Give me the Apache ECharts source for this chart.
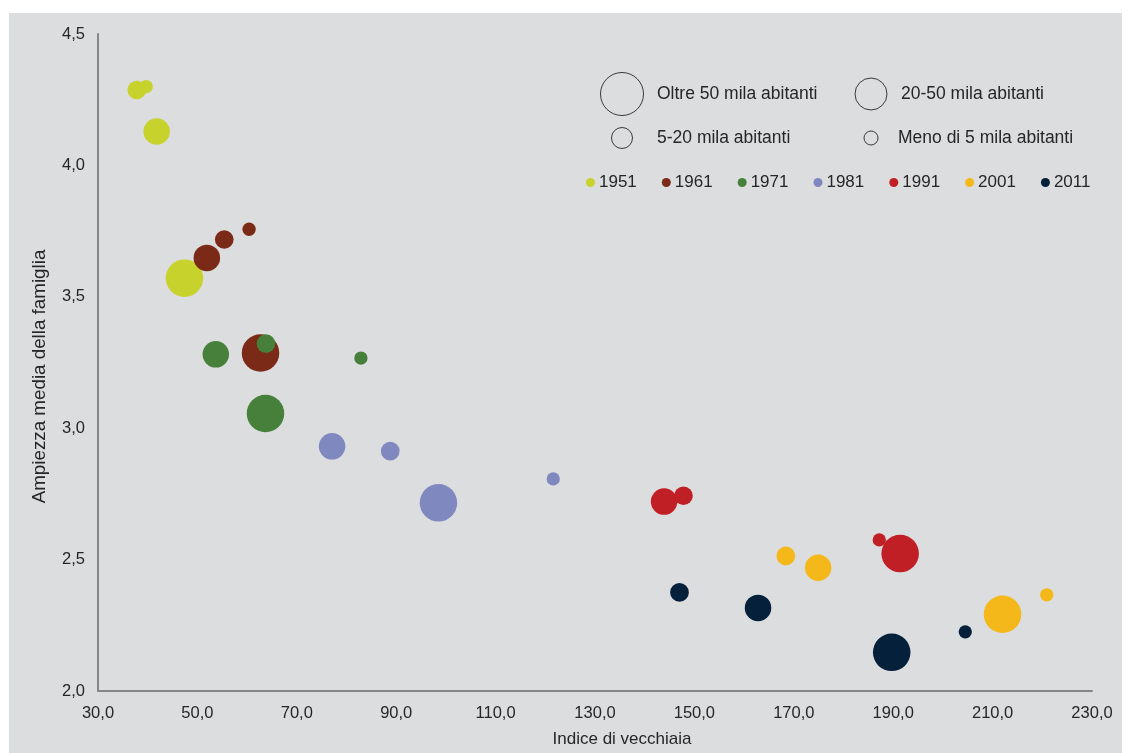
<!DOCTYPE html>
<html>
<head>
<meta charset="utf-8">
<script src="https://cdn.jsdelivr.net/npm/echarts@6/dist/echarts.min.js"></script>
<style>
  html, body { margin: 0; padding: 0; background: #ffffff; }
  #chart { width: 1128px; height: 753px; }
</style>
</head>
<body>
<div id="chart"></div>
<script>
// Anni di censimento (una serie per anno)
const years = ['1951', '1961', '1971', '1981', '1991', '2001', '2011'];

// Classi di ampiezza demografica dei comuni (ordine dei valori in ogni array)
const sizeClasses = ['Oltre 50 mila abitanti', '20-50 mila abitanti', '5-20 mila abitanti', 'Meno di 5 mila abitanti'];

// Indice di vecchiaia per classe, anno per anno
const indice1951 = [47.4, 41.8, 37.8, 39.7];
const indice1961 = [62.7, 51.9, 55.4, 60.4];
const indice1971 = [63.7, 53.7, 63.8, 82.9];
const indice1981 = [98.5, 77.1, 88.8, 121.6];
const indice1991 = [191.4, 143.9, 147.8, 187.2];
const indice2001 = [212.0, 174.9, 168.4, 220.9];
const indice2011 = [189.7, 162.8, 147.0, 204.5];

// Ampiezza media della famiglia per classe, anno per anno
const ampiezza1951 = [3.571, 4.129, 4.287, 4.300];
const ampiezza1961 = [3.286, 3.648, 3.718, 3.757];
const ampiezza1971 = [3.056, 3.281, 3.322, 3.267];
const ampiezza1981 = [2.716, 2.931, 2.913, 2.807];
const ampiezza1991 = [2.523, 2.721, 2.743, 2.575];
const ampiezza2001 = [2.292, 2.469, 2.514, 2.366];
const ampiezza2011 = [2.147, 2.316, 2.375, 2.225];

// Assi
const xTicks = [30, 50, 70, 90, 110, 130, 150, 170, 190, 210, 230];
const yTicks = [2.0, 2.5, 3.0, 3.5, 4.0, 4.5];

const indiceByYear = [indice1951, indice1961, indice1971, indice1981, indice1991, indice2001, indice2011];
const ampiezzaByYear = [ampiezza1951, ampiezza1961, ampiezza1971, ampiezza1981, ampiezza1991, ampiezza2001, ampiezza2011];

const yearColors = ['#c8d22d', '#7a2a16', '#47803a', '#7f88bf', '#c01f25', '#f5b81a', '#04203a'];
const bubbleDiameter = [37.5, 26.5, 18.7, 13.3];   // diametro per classe
const keyDiameter = [43, 32, 21, 14];              // cerchi della chiave dimensionale

const fmt = v => v.toFixed(1).replace('.', ',');
const textColor = '#262626';
const font = 'Liberation Sans, Arial, sans-serif';

const series = years.map((y, i) => ({
  name: y,
  type: 'scatter',
  symbol: 'circle',
  data: indiceByYear[i].map((x, k) => [x, ampiezzaByYear[i][k], k]),
  symbolSize: d => bubbleDiameter[d[2]],
  itemStyle: { color: yearColors[i], opacity: 1 },
  emphasis: { disabled: true },
  z: 2 + i
}));

// Chiave delle classi di ampiezza: cerchi vuoti con etichetta
const keyPos = [[622, 94], [871, 94], [622, 138], [871, 138]];
const keyTextX = [657, 901, 657, 898];
const keyGraphics = [];
sizeClasses.forEach((label, k) => {
  keyGraphics.push({
    type: 'circle',
    shape: { cx: keyPos[k][0], cy: keyPos[k][1], r: keyDiameter[k] / 2 },
    style: { fill: 'none', stroke: '#3a3a3a', lineWidth: 1 },
    z: 10
  });
  keyGraphics.push({
    type: 'text',
    x: keyTextX[k],
    y: keyPos[k][1],
    style: { text: label, fill: textColor, font: '17.5px ' + font, textVerticalAlign: 'middle', verticalAlign: 'middle' },
    z: 10
  });
});

const chart = echarts.init(document.getElementById('chart'), null, { renderer: 'canvas' });
chart.setOption({
  backgroundColor: '#ffffff',
  animation: false,
  textStyle: { fontFamily: font, color: textColor },
  graphic: [
    {
      type: 'rect',
      shape: { x: 9, y: 13, width: 1113, height: 740 },
      style: { fill: '#dcdddf' },
      z: -10,
      silent: true
    }
  ].concat(keyGraphics),
  legend: {
    data: years,
    left: 581,
    top: 169,
    icon: 'circle',
    itemWidth: 9,
    itemHeight: 9,
    itemGap: 25,
    textStyle: { fontSize: 17, color: textColor, fontFamily: font, padding: [0, 0, 0, -1] },
    selectedMode: false
  },
  grid: { left: 98, right: 36, top: 34, bottom: 61, containLabel: false },
  xAxis: {
    type: 'value',
    min: xTicks[0],
    max: xTicks[xTicks.length - 1],
    interval: 20,
    name: 'Indice di vecchiaia',
    nameLocation: 'middle',
    nameGap: 40,
    nameTextStyle: { fontSize: 17, color: textColor, padding: [0, 0, 0, 54] },
    axisLine: { show: true, lineStyle: { color: '#868686', width: 2 } },
    axisTick: { show: false },
    splitLine: { show: false },
    axisLabel: { fontSize: 16.5, color: textColor, margin: 14, formatter: fmt }
  },
  yAxis: {
    type: 'value',
    min: yTicks[0],
    max: yTicks[yTicks.length - 1],
    interval: 0.5,
    name: 'Ampiezza media della famiglia',
    nameLocation: 'middle',
    nameGap: 49,
    nameTextStyle: { fontSize: 18.8, color: textColor, padding: [0, 28, 0, 0] },
    axisLine: { show: true, lineStyle: { color: '#868686', width: 2 } },
    axisTick: { show: false },
    splitLine: { show: false },
    axisLabel: { fontSize: 16.5, color: textColor, margin: 13, formatter: fmt }
  },
  series: series
});
</script>
</body>
</html>
